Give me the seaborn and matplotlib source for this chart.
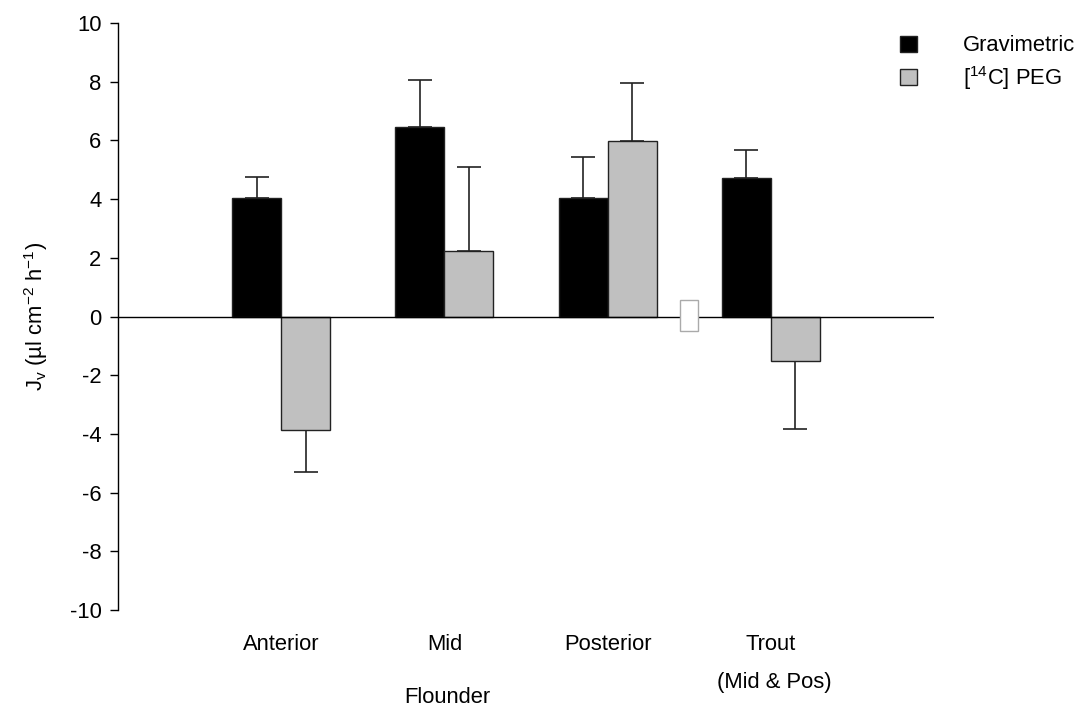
import numpy as np
import pandas as pd
import matplotlib
matplotlib.use("Agg")
import matplotlib.pyplot as plt
from matplotlib.patches import Patch, Rectangle
import seaborn as sns

# Water flux by intestinal region, measured two ways
regions = ["Anterior", "Mid", "Posterior", "Trout"]
methods = ["Gravimetric", "[14C] PEG"]
gravimetric = [4.05, 6.45, 4.04, 4.72]
gravimetric_se = [0.71, 1.62, 1.38, 0.95]
peg = [-3.86, 2.23, 5.97, -1.53]
peg_se = [1.44, 2.86, 1.97, 2.31]
y_ticks = [-10, -8, -6, -4, -2, 0, 2, 4, 6, 8, 10]

df = pd.DataFrame({
    "region": regions * 2,
    "method": [methods[0]] * 4 + [methods[1]] * 4,
    "flux": gravimetric + peg,
})

sns.set_theme(style="white")
plt.rcParams["font.family"] = ["Liberation Sans", "DejaVu Sans"]
plt.rcParams["mathtext.fontset"] = "custom"
plt.rcParams["mathtext.rm"] = "Liberation Sans"
plt.rcParams["mathtext.it"] = "Liberation Sans"
plt.rcParams["text.color"] = "black"
plt.rcParams["axes.labelcolor"] = "black"
plt.rcParams["xtick.color"] = "black"
plt.rcParams["ytick.color"] = "black"

FS = 15.8
colors = ["#000000", "#c0c0c0"]

fig = plt.figure(figsize=(10.83, 7.08), dpi=100)
ax = fig.add_axes([0.109, 0.1384, 0.7534, 0.8291])

sns.barplot(data=df, x="region", y="flux", hue="method", order=regions,
            hue_order=methods, palette=colors, width=0.6, errorbar=None,
            edgecolor="#222222", linewidth=1.0, legend=False, ax=ax, zorder=2)

# One-sided error bars pointing away from zero
offsets = [-0.15, 0.15]
for k, (vals, errs) in enumerate([(gravimetric, gravimetric_se), (peg, peg_se)]):
    for i, (v, e) in enumerate(zip(vals, errs)):
        lower = e if v < 0 else 0
        upper = e if v >= 0 else 0
        ax.errorbar(i + offsets[k], v, yerr=[[lower], [upper]], fmt="none",
                    ecolor="#222222", elinewidth=1.2, capsize=8.5,
                    capthick=1.2, zorder=1)

ax.set_xlim(-1, 4)
ax.set_ylim(-10, 10)
ax.set_yticks(y_ticks)
ax.set_yticklabels([str(t) for t in y_ticks], fontsize=FS)
ax.axhline(0, color="black", lw=1.0, zorder=3)

# Axis break marker between flounder and trout groups
ax.add_patch(Rectangle((2.445, -0.5), 0.11, 1.05, facecolor="white",
                       edgecolor="#aaaaaa", lw=1.0, zorder=4))

for side in ["top", "right", "bottom"]:
    ax.spines[side].set_visible(False)
ax.spines["left"].set_color("black")
ax.spines["left"].set_linewidth(1.0)
ax.tick_params(axis="y", direction="out", length=6, width=1.0, pad=6,
               left=True, colors="black")
ax.tick_params(axis="x", length=0, pad=17)
ax.set_xticks(range(len(regions)))
ax.set_xticklabels(regions, fontsize=FS)
ax.set_xlabel("")

ax.text(3.02, -12.48, "(Mid & Pos)", ha="center", va="center", fontsize=FS)
ax.text(1.02, -12.98, "Flounder", ha="center", va="center", fontsize=FS)

ax.set_ylabel(r"J$_\mathregular{v}$ (µl cm$^\mathregular{-2}$ h$^\mathregular{-1}$)",
              fontsize=FS, labelpad=14)

handles = [Patch(facecolor=colors[0], edgecolor="#222222", lw=1.0),
           Patch(facecolor=colors[1], edgecolor="#222222", lw=1.0)]
fig.legend(handles, ["Gravimetric", r"[$^\mathregular{14}$C] PEG"],
           loc="upper left", bbox_to_anchor=(0.831, 0.950), frameon=False,
           fontsize=FS, handlelength=0.76, handleheight=0.76,
           handletextpad=2.1, labelspacing=0.35, borderpad=0,
           borderaxespad=0)

fig.savefig("out.png", dpi=100)
